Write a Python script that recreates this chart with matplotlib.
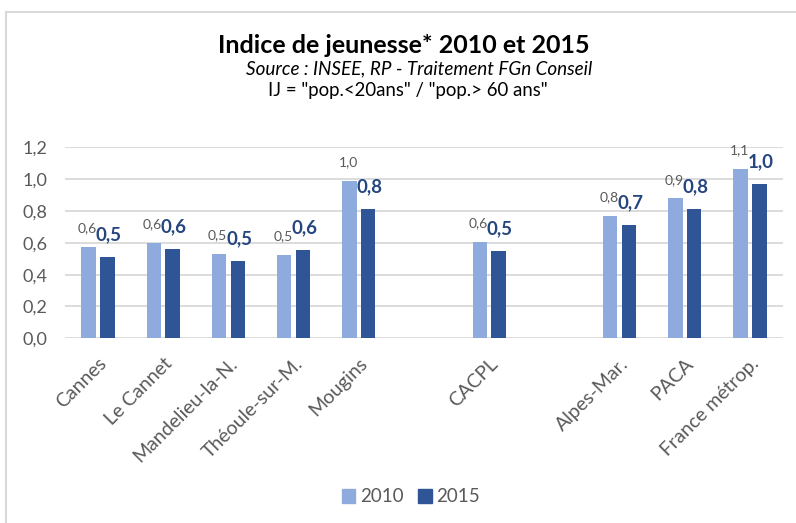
import numpy as np
import matplotlib
matplotlib.use("Agg")
import matplotlib.pyplot as plt
from matplotlib.lines import Line2D
from matplotlib.patches import Patch

plt.rcParams['font.family'] = ['Lato', 'DejaVu Sans']

# data (empty slots are gaps between groups)
categories = ["Cannes", "Le Cannet", "Mandelieu-la-N.", "Théoule-sur-M.", "Mougins",
              "", "CACPL", "", "Alpes-Mar.", "PACA", "France métrop."]
ij_2010 = [0.575, 0.60, 0.53, 0.525, 0.99, None, 0.607, None, 0.768, 0.879, 1.065]
ij_2015 = [0.51, 0.56, 0.484, 0.553, 0.81, None, 0.546, None, 0.712, 0.81, 0.969]
years = ["2010", "2015"]
y_ticks = [0.0, 0.2, 0.4, 0.6, 0.8, 1.0, 1.2]

c2010 = "#8faadc"
c2015 = "#2f5597"
grey = "#595959"

W, H = 796, 523
fig = plt.figure(figsize=(W / 100, H / 100), dpi=100)
ax = fig.add_axes([65.4 / W, 1 - 338.3 / H, (782.6 - 65.4) / W, (338.3 - 147.3) / H])

x = np.arange(len(categories))
v10 = np.array([np.nan if v is None else v for v in ij_2010])
v15 = np.array([np.nan if v is None else v for v in ij_2015])
bw = 0.22
off = 0.144
ax.bar(x - off, v10, bw, color=c2010, zorder=2)
ax.bar(x + off, v15, bw, color=c2015, zorder=2)

def fmt(v):
    return f"{v:.1f}".replace(".", ",")

for xi, a, b in zip(x, v10, v15):
    if not np.isnan(a):
        ax.annotate(fmt(a), (xi - off, a), xytext=(-1, 9), textcoords="offset points",
                    ha="center", va="bottom", fontsize=10, color=grey)
    if not np.isnan(b):
        ax.annotate(fmt(b), (xi + off, b), xytext=(1, 10), textcoords="offset points",
                    ha="center", va="bottom", fontsize=13.5, fontweight="bold", color="#26467f")

ax.set_xlim(-0.5, len(categories) - 0.5)
ax.set_ylim(0, 1.2)
ax.set_yticks(y_ticks)
ax.set_yticklabels([fmt(t) for t in y_ticks])
ax.set_xticks(x)
ax.set_xticklabels(categories, rotation=45, ha="right", rotation_mode="anchor")
ax.tick_params(axis="y", length=0, pad=13, labelsize=13, labelcolor=grey)
ax.tick_params(axis="x", length=0, pad=12, labelsize=14, labelcolor=grey)
ax.yaxis.grid(True, color="#d9d9d9", lw=1.3)
ax.set_axisbelow(True)
for s in ax.spines.values():
    s.set_visible(False)

# titles
fig.text(403.5 / W, 1 - 53 / H, "Indice de jeunesse* 2010 et 2015", ha="center", va="baseline",
         fontsize=18, fontweight="bold", color="black")
fig.text(419 / W, 1 - 74 / H, "Source : INSEE, RP - Traitement FGn Conseil", ha="center",
         va="baseline", fontsize=13.6, style="italic", color="black")
fig.text(407.7 / W, 1 - 96 / H, 'IJ = "pop.<20ans" / "pop.> 60 ans"', ha="center",
         va="baseline", fontsize=13.4, color="black")

handles = [Patch(color=c2010, label=years[0]), Patch(color=c2015, label=years[1])]
fig.legend(handles=handles, loc="center", bbox_to_anchor=(411 / W, 1 - 497 / H), ncol=2,
           frameon=False, fontsize=13.5, handlelength=0.7, handleheight=0.7,
           handletextpad=0.25, columnspacing=0.8, labelcolor=grey)

# chart border (top and left edges visible)
fig.add_artist(Line2D([6 / W, 6 / W], [0, 1 - 12 / H], transform=fig.transFigure,
                      color="#d9d9d9", lw=1.5))
fig.add_artist(Line2D([6 / W, 1], [1 - 12 / H, 1 - 12 / H], transform=fig.transFigure,
                      color="#d9d9d9", lw=1.5))

fig.savefig("out.png", dpi=100)
